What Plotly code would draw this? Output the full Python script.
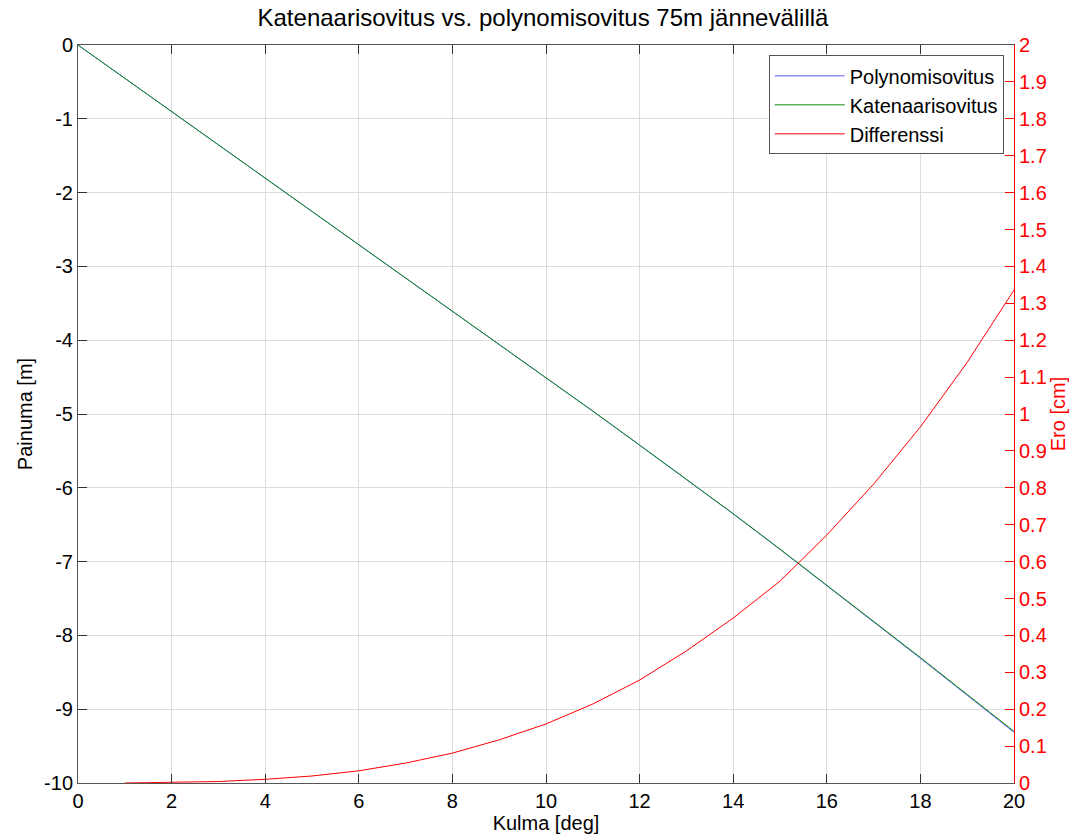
import plotly.graph_objects as go

# Angle [deg]
kulma = [0, 1, 2, 3, 4, 5, 6, 7, 8, 9, 10, 11, 12, 13, 14, 15, 16, 17, 18, 19, 20]

# Sag [m] for both fits
polynomi = [0.0, -0.450, -0.900, -1.350, -1.800, -2.250, -2.700, -3.151, -3.601, -4.051, -4.502,
            -4.962, -5.423, -5.884, -6.354, -6.835, -7.327, -7.808, -8.310, -8.811, -9.313]
katenaari = [0.0, -0.450, -0.900, -1.350, -1.800, -2.250, -2.700, -3.150, -3.600, -4.050, -4.500,
             -4.960, -5.420, -5.880, -6.350, -6.830, -7.320, -7.800, -8.300, -8.800, -9.300]

# Difference [cm]
ero_kulma = [1, 2, 3, 4, 5, 6, 7, 8, 9, 10, 11, 12, 13, 14, 15, 16, 17, 18, 19, 20]
ero = [0.0, 0.001, 0.004, 0.010, 0.019, 0.033, 0.054, 0.081, 0.117, 0.160,
       0.214, 0.279, 0.358, 0.447, 0.547, 0.672, 0.810, 0.965, 1.140, 1.336]

# Axis tick labels
x_ticks = [0, 2, 4, 6, 8, 10, 12, 14, 16, 18, 20]
y_ticks = [-10, -9, -8, -7, -6, -5, -4, -3, -2, -1, 0]
y2_ticks = [0, 0.1, 0.2, 0.3, 0.4, 0.5, 0.6, 0.7, 0.8, 0.9, 1, 1.1, 1.2, 1.3, 1.4,
            1.5, 1.6, 1.7, 1.8, 1.9, 2]

FONT = "Liberation Sans, Arial, sans-serif"
TS = 20

fig = go.Figure()
fig.add_trace(go.Scatter(x=kulma, y=polynomi, mode="lines", name="Polynomisovitus",
                         line=dict(color="#3333ff", width=0.8)))
fig.add_trace(go.Scatter(x=kulma, y=katenaari, mode="lines", name="Katenaarisovitus",
                         line=dict(color="#108c10", width=1)))
fig.add_trace(go.Scatter(x=ero_kulma, y=ero, mode="lines", name="Differenssi",
                         line=dict(color="#ff0000", width=1), yaxis="y2"))

fig.update_layout(
    width=1086, height=840,
    margin=dict(l=78, r=72, t=45, b=57),
    paper_bgcolor="white", plot_bgcolor="white",
    font=dict(family=FONT, size=TS, color="black"),
    title=dict(text="Katenaarisovitus vs. polynomisovitus 75m jännevälillä",
               x=0.5, xanchor="center", y=0.979, yanchor="middle",
               font=dict(size=24, family=FONT, color="black")),
    xaxis=dict(range=[0, 20], tickvals=x_ticks, ticktext=[str(v) for v in x_ticks],
               showgrid=True, gridcolor="#dcdcdc",
               gridwidth=1, zeroline=False, showline=True, linecolor="#555555",
               linewidth=1, mirror="ticks", ticks="inside", ticklen=9,
               tickcolor="#333333", tickfont=dict(size=TS),
               title=dict(text="Kulma [deg]", font=dict(size=TS), standoff=1)),
    yaxis=dict(range=[-10, 0], tickvals=y_ticks, ticktext=[str(v) for v in y_ticks],
               showgrid=True, gridcolor="#dcdcdc",
               gridwidth=1, zeroline=False, showline=True, linecolor="#555555",
               linewidth=1, ticks="inside", ticklen=9, tickcolor="#333333",
               tickfont=dict(size=TS),
               title=dict(text="Painuma [m]", font=dict(size=TS), standoff=6)),
    yaxis2=dict(range=[0, 2], tickvals=y2_ticks, ticktext=[f"{v:g}" for v in y2_ticks],
                overlaying="y", side="right",
                showgrid=False, zeroline=False, showline=True, linecolor="#ff0000",
                linewidth=1, ticks="inside", ticklen=9, tickcolor="#ff0000",
                tickfont=dict(color="#ff0000", size=TS),
                title=dict(text="Ero [cm]", font=dict(size=TS, color="#ff0000"),
                           standoff=4)),
    legend=dict(x=0.989, y=0.986, xanchor="right", yanchor="top",
                bgcolor="white", bordercolor="#555555", borderwidth=1,
                font=dict(size=TS, family=FONT), tracegroupgap=0,
                itemwidth=70),
    showlegend=True,
)

fig.write_html("out.html")
